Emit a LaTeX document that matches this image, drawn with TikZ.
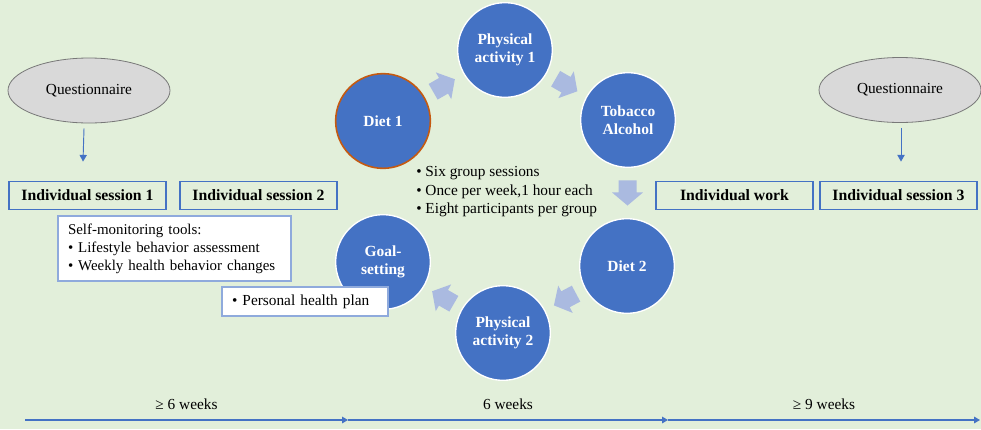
\documentclass[tikz,border=0pt]{standalone}
\usepackage{fontspec}
\setmainfont{Liberation Serif}
\usetikzlibrary{shapes.geometric,calc,arrows.meta}
\definecolor{bg}{RGB}{226,239,218}
\definecolor{cblue}{RGB}{68,114,196}
\definecolor{lblue}{RGB}{143,170,220}
\definecolor{arrblue}{RGB}{170,186,224}
\definecolor{qgray}{RGB}{217,217,217}
\definecolor{qborder}{RGB}{120,120,120}
\definecolor{dorange}{RGB}{197,90,17}
\newcommand{\blockarrowbetween}[3]{%
  \fill[arrblue, shift={($(#1)!0.5!(#2)$)}, rotate=#3, x=1pt, y=1pt]
    (-9.4,-6.75) -- (-0.4,-6.75) -- (-0.4,-11.6) -- (9.4,0) -- (-0.4,11.6) -- (-0.4,6.75) -- (-9.4,6.75) -- cycle;}
\begin{document}
\begin{tikzpicture}[x=0.75pt,y=-0.75pt,
  font=\fontsize{11.5}{13.5}\selectfont,
  quest/.style={ellipse, draw=qborder, fill=qgray, line width=0.6pt, minimum width=121.5pt, minimum height=48.75pt, inner sep=0pt},
  indiv/.style={draw=cblue, line width=1.4pt, minimum width=118pt, minimum height=21pt, inner sep=0pt, font=\fontsize{11.8}{13.5}\selectfont\bfseries},
  circ/.style={circle, fill=cblue, draw=white, line width=1pt, minimum size=71pt, inner sep=0pt, text=white, align=center, font=\fontsize{11.6}{13.2}\selectfont\bfseries},
  infobox/.style={draw=lblue, line width=1.4pt, fill=white, align=left, inner ysep=0pt},
  qarr/.style={draw=cblue, line width=0.7pt, -{Triangle[length=5pt,width=5.5pt]}},
  tline/.style={draw=cblue, line width=0.8pt, -{Triangle[length=4.5pt,width=5pt]}}
]
\fill[bg] (0,0) rectangle (981,429);
\useasboundingbox (0,0) rectangle (981,429);

% questionnaires
\node[quest] (q1) at (89,90.5) {Questionnaire};
\node[quest] (q2) at (900,90) {Questionnaire};

% individual boxes
\node[indiv] (s1) at (87.5,195.5) {Individual session 1};
\node[indiv] (s2) at (258.5,195.5) {Individual session 2};
\node[indiv] (w)  at (734.5,195.5) {Individual work};
\node[indiv] (s3) at (898.5,195.5) {Individual session 3};

\draw[qarr] ([shift={(-5,5)}]q1.south) -- ([shift={(-4.5,-19)}]s1.north);
\draw[qarr] ([shift={(1,5)}]q2.south) -- ([shift={(2.5,-19)}]s3.north);

% circles
\node[circ, draw=dorange, line width=1.2pt] (d1) at (383,121) {Diet 1};
\node[circ] (pa1) at (505,50) {Physical\\activity 1};
\node[circ] (ta) at (628,120) {Tobacco\\Alcohol};
\node[circ] (d2) at (627,266) {Diet 2};
\node[circ] (pa2) at (503,333) {Physical\\activity 2};
\node[circ] (gs) at (383,262) {Goal-\\setting};

% block arrows
\blockarrowbetween{d1}{pa1}{30}
\blockarrowbetween{pa1}{ta}{-30}
\blockarrowbetween{ta}{d2}{-90}
\blockarrowbetween{d2}{pa2}{-152}
\blockarrowbetween{pa2}{gs}{150}

% group session text
\node[anchor=west, align=left, inner sep=0pt, font=\fontsize{11.5}{13.9}\selectfont] (grp) at (416,192)
  {• Six group sessions\\• Once per week,1 hour each\\• Eight participants per group};

% info boxes
\node[infobox, text width=159.75pt, inner xsep=7.5pt, minimum height=48.75pt, font=\fontsize{11.2}{13.5}\selectfont] (sm) at (174.5,248.5)
  {Self-monitoring tools:\\• Lifestyle behavior assessment\\• Weekly health behavior changes};
\node[infobox, text width=109.5pt, inner xsep=7.5pt, minimum height=21.75pt] (php) at (305,301.5)
  {• Personal health plan};

% timeline
\coordinate (t0) at (25,420);
\coordinate (t1) at (348,420);
\coordinate (t2) at (668,420);
\coordinate (t3) at (980,420);
\draw[tline] (t0) -- node[midway, yshift=12pt] {≥ 6 weeks} (t1);
\draw[tline] (t1) -- node[midway, yshift=12pt] {6 weeks} (t2);
\draw[tline] (t2) -- node[midway, yshift=12pt] {≥ 9 weeks} (t3);
\end{tikzpicture}
\end{document}
